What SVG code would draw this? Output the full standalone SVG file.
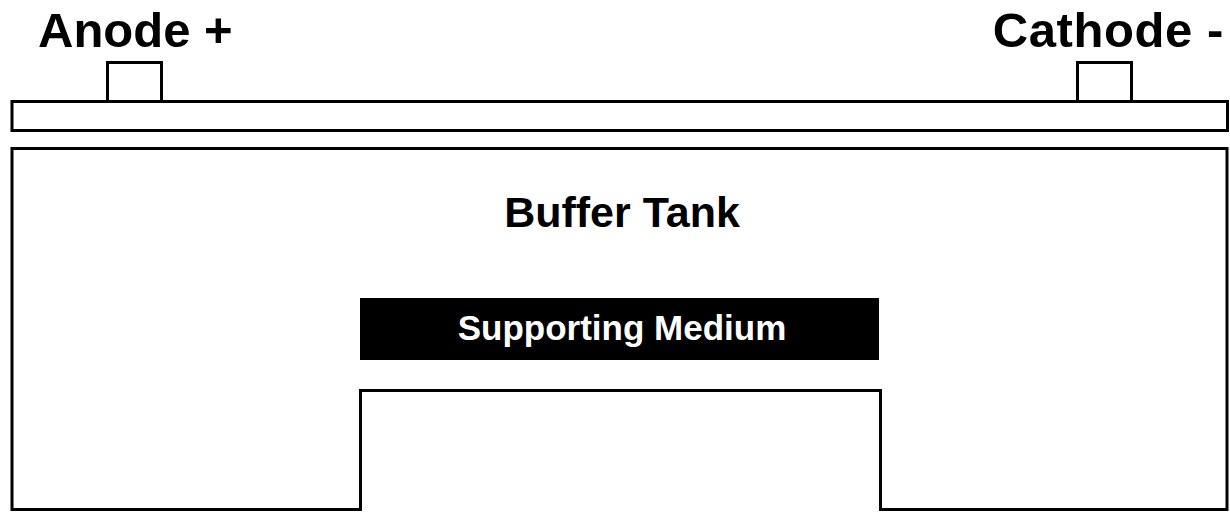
<svg xmlns="http://www.w3.org/2000/svg" width="1230" height="512" viewBox="0 0 1230 512">
<style>
.ln{fill:#fff;stroke:#000;stroke-width:3}
.t{font-family:"Liberation Sans",Arial,sans-serif;font-weight:bold;fill:#000}
</style>
<rect width="1230" height="512" fill="#fff"/>
<g id="anode-label"><text class="t" x="38" y="47" font-size="49">Anode +</text></g>
<g id="cathode-label"><text class="t" x="1224" y="47" font-size="49" text-anchor="end" letter-spacing="0.6">Cathode -</text></g>
<g id="anode-terminal"><rect class="ln" x="107.5" y="62.5" width="54" height="39"/></g>
<g id="cathode-terminal"><rect class="ln" x="1077.5" y="62.5" width="54" height="39"/></g>
<g id="lid"><rect class="ln" x="12" y="101.5" width="1215.5" height="29"/></g>
<g id="buffer-tank">
<path class="ln" d="M12,148.5 H1227 V509.5 H880.5 V390.5 H360.5 V509.5 H12 Z"/>
<text class="t" x="622" y="227" font-size="43" text-anchor="middle">Buffer Tank</text>
</g>
<g id="supporting-medium">
<rect x="360" y="298" width="519" height="62" fill="#000"/>
<text class="t" x="622" y="340" font-size="35" text-anchor="middle" style="fill:#fff">Supporting Medium</text>
</g>
<g id="connectors"/>
</svg>
